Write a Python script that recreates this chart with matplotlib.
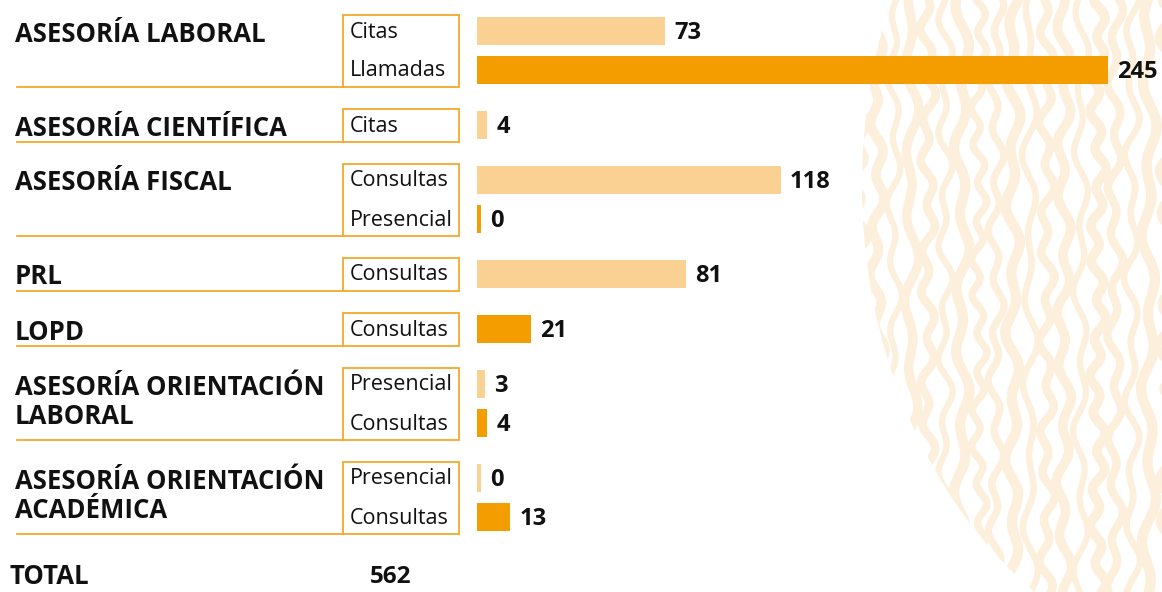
import numpy as np
import matplotlib
matplotlib.use("Agg")
import matplotlib.pyplot as plt
from matplotlib.patches import Rectangle, Ellipse

plt.rcParams['font.family'] = ['Open Sans', 'DejaVu Sans']

# data
groups = ["ASESORÍA LABORAL", "ASESORÍA CIENTÍFICA", "ASESORÍA FISCAL", "PRL", "LOPD",
          "ASESORÍA ORIENTACIÓN\nLABORAL", "ASESORÍA ORIENTACIÓN\nACADÉMICA"]
sub_labels = [["Citas", "Llamadas"], ["Citas"], ["Consultas", "Presencial"], ["Consultas"],
              ["Consultas"], ["Presencial", "Consultas"], ["Presencial", "Consultas"]]
values = [[73, 245], [4], [118, 0], [81], [21], [3, 4], [0, 13]]
# 0 = light bar, 1 = dark bar
shades = [[0, 1], [0], [0, 1], [0], [1], [0, 1], [0, 1]]
total_label = "TOTAL"
total_value = 562

LIGHT = "#fbd193"
DARK = "#f49d00"
EDGE = "#f6a82a"
TEXTURE = "#fcf0dc"
INK = "#111111"

W, H = 1162, 592
fig = plt.figure(figsize=(W / 100, H / 100), dpi=100)
ax = fig.add_axes([0, 0, 1, 1])
ax.set_xlim(0, W)
ax.set_ylim(H, 0)
ax.axis("off")

# decorative streaky texture on the right (just background decoration)
clip = Ellipse((1262, 185), 800, 990, transform=ax.transData)
yy = np.linspace(0, H, 500)
for i, x0 in enumerate(np.arange(860, 1190, 17)):
    f1 = 6.0 + (i * 37 % 7)
    f2 = 17.0 + (i * 53 % 11)
    xx = x0 + 4.5 * np.sin(yy / f1 + i * 1.7) + 3.5 * np.sin(yy / f2 + i * 0.9)
    lw = 6.0 + 1.5 * np.sin(i * 2.3)
    ln, = ax.plot(xx, yy, color=TEXTURE, lw=lw, solid_capstyle="round", zorder=0)
    ln.set_clip_path(clip)

# bar axes, value scale
px_per_unit = 2.576
x0_bars = 477
bx = fig.add_axes([x0_bars / W, 0, (W - x0_bars) / W, 1])
bx.set_xlim(0, (W - x0_bars) / px_per_unit)
bx.set_ylim(H, 0)
bx.axis("off")
bx.patch.set_alpha(0)

# row layout
first_y = 31
pitch_in = 39
pitch_out = 55
bar_h = 28
box_left, box_right = 343, 459

y = first_y
for gi, g in enumerate(groups):
    rows = []
    for si in range(len(values[gi])):
        if si > 0:
            y += pitch_in
        rows.append(y)
    top = rows[0] - 16
    bottom = rows[-1] + 17

    # box and underline
    ax.add_patch(Rectangle((box_left, top), box_right - box_left, bottom - top,
                           fill=False, edgecolor=EDGE, lw=1.3, zorder=2))
    ax.plot([17, box_left], [bottom, bottom], color=EDGE, lw=1.3, zorder=2)

    # group label
    nlines = g.count("\n") + 1
    ax.text(15, rows[0] + 3 + (nlines - 1) * 15, g, fontsize=18.5, fontweight="bold",
            va="center", ha="left", linespacing=1.12, color=INK)

    for si, r in enumerate(rows):
        v = values[gi][si]
        ax.text(350, r + 1, sub_labels[gi][si], fontsize=15.5, va="center", ha="left", color=INK)
        bx.barh(r, max(v, 1.7), height=bar_h, left=0,
                color=DARK if shades[gi][si] else LIGHT, zorder=3)
        bx.annotate(str(v), (max(v, 1.7), r + 2), xytext=(9, 0), textcoords="offset pixels",
                    fontsize=17, fontweight="bold", va="center", ha="left", color=INK)
    y = rows[-1] + pitch_out

ax.text(10, 576, total_label, fontsize=18.5, fontweight="bold", va="center", ha="left",
        color=INK)
ax.text(370, 577, str(total_value), fontsize=17.5, fontweight="bold", va="center", ha="left",
        color=INK)

fig.savefig("out.png", dpi=100)
